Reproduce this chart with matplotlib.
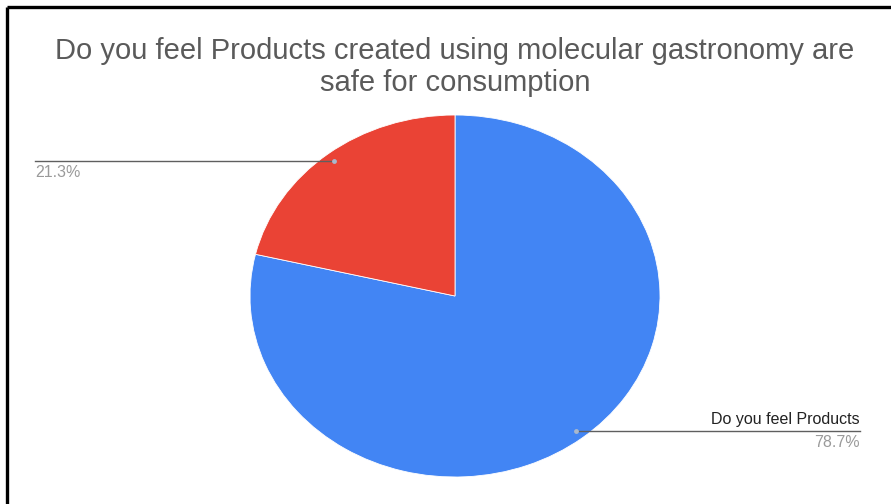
import matplotlib
matplotlib.use("Agg")
import matplotlib.pyplot as plt
import numpy as np

plt.rcParams['font.family'] = ['Liberation Sans', 'DejaVu Sans']

title = "Do you feel Products created using molecular gastronomy are\nsafe for consumption"
categories = ["Do you feel Products", ""]
shares = [78.7, 21.3]
colors = ["#4285F4", "#EA4335"]

W, H = 891, 504
fig = plt.figure(figsize=(W / 100, H / 100), dpi=100)

# pie box (slightly wider than tall)
cx, cy, rx, ry = 455, 296, 205, 181
ax = fig.add_axes([(cx - rx) / W, (H - cy - ry) / H, 2 * rx / W, 2 * ry / H])
wedges, _ = ax.pie(shares, colors=colors, startangle=90, counterclock=False,
                   wedgeprops=dict(edgecolor="white", linewidth=0.6))
ax.set_aspect("auto")
ax.set_xlim(-1, 1)
ax.set_ylim(-1, 1)

# overlay in pixel coordinates for frame, title and callouts
ov = fig.add_axes([0, 0, 1, 1])
ov.set_zorder(3)
ov.patch.set_alpha(0)
ov.set_xlim(0, W)
ov.set_ylim(H, 0)
ov.axis("off")

# frame lines
ov.plot([7, W], [7, 7], color="black", lw=2.4, solid_capstyle="butt")
ov.plot([7, 7], [7, H], color="black", lw=2.4, solid_capstyle="butt")

ov.text(455, 67, title, ha="center", va="center", fontsize=21,
        color="#5a5a5a", linespacing=1.2)

# callouts
to_px = ax.transData + ov.transData.inverted()
for w, cat, val in zip(wedges, categories, shares):
    mid = np.deg2rad((w.theta1 + w.theta2) / 2)
    px, py = to_px.transform((0.95 * np.cos(mid), 0.95 * np.sin(mid)))
    if np.cos(mid) >= 0:
        xe, ha = 860, "right"
    else:
        xe, ha = 35, "left"
    ov.plot([px, xe], [py, py], color="#5f5f5f", lw=1.0)
    ov.plot([px], [py], "o", ms=3.5, color="#a9b8cc", mec="none")
    if cat:
        ov.text(xe, py - 4, cat, ha=ha, va="bottom", fontsize=11.5, color="#222222")
    ov.text(xe, py + 4, f"{val}%", ha=ha, va="top", fontsize=11.5, color="#9a9a9a")

fig.savefig("out.png", dpi=100, facecolor="white")
